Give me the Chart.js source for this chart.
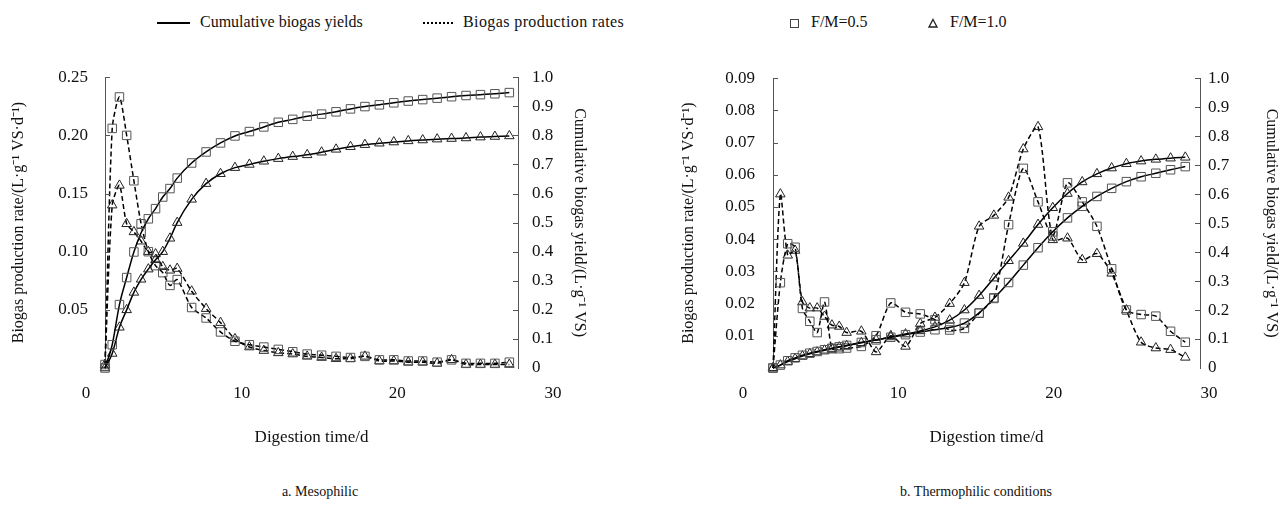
<!DOCTYPE html>
<html>
<head>
<meta charset="utf-8">
<script src="https://cdn.jsdelivr.net/npm/chart.js@4.4.1/dist/chart.umd.min.js"></script>
<style>
  body { margin: 0; background: #fff; font-family: "Liberation Serif", "Times New Roman", serif; color: #111; }
  #page { position: relative; width: 1283px; height: 515px; overflow: hidden; }
  .box { position: absolute; top: 50px; height: 410px; }
  .leg { position: absolute; top: 12px; font-size: 16px; line-height: 20px; white-space: nowrap; }
  .leg i { display: inline-block; vertical-align: middle; margin-right: 10px; }
  .cap { position: absolute; top: 482px; font-size: 14px; line-height: 20px; text-align: center; }
</style>
</head>
<body>
<div id="page">
  <div class="leg" style="left:157px"><i style="width:33px;border-top:2px solid #000"></i>Cumulative biogas yields</div>
  <div class="leg" style="left:423px;letter-spacing:0.4px"><i style="width:30px;border-top:2px dotted #000"></i>Biogas production rates</div>
  <div class="leg" style="left:790px"><i style="width:7px;height:7px;border:1px solid #444;margin-right:12px"></i>F/M=0.5</div>
  <div class="leg" style="left:928px"><svg width="10" height="10" style="vertical-align:middle;margin-right:12px"><path d="M5 1.5 L9 9 L1 9 Z" fill="none" stroke="#222" stroke-width="1.3"/></svg>F/M=1.0</div>

  <div class="box" style="left:0;width:640px"><canvas id="meso"></canvas></div>
  <div class="box" style="left:640px;width:643px"><canvas id="thermo"></canvas></div>

  <div class="cap" style="left:0;width:640px">a. Mesophilic</div>
  <div class="cap" style="left:700px;width:552px">b. Thermophilic conditions</div>
</div>

<script>
const dias = [0, 0.5, 1, 1.5, 2, 2.5, 3, 3.5, 4, 4.5, 5, 6, 7, 8, 9, 10, 11, 12, 13, 14, 15, 16, 17, 18, 19, 20, 21, 22, 23, 24, 25, 26, 27, 28];

// mesofilico
const mesoCum05 = [0, 0.08, 0.218, 0.311, 0.399, 0.465, 0.513, 0.548, 0.588, 0.617, 0.653, 0.705, 0.743, 0.774, 0.798, 0.813, 0.829, 0.845, 0.855, 0.866, 0.873, 0.881, 0.891, 0.899, 0.905, 0.912, 0.918, 0.923, 0.928, 0.933, 0.937, 0.940, 0.943, 0.947];
const mesoCum10 = [0, 0.05, 0.14, 0.20, 0.26, 0.305, 0.34, 0.372, 0.40, 0.446, 0.50, 0.58, 0.634, 0.668, 0.689, 0.70, 0.711, 0.72, 0.727, 0.733, 0.742, 0.752, 0.761, 0.768, 0.773, 0.777, 0.781, 0.784, 0.787, 0.789, 0.791, 0.794, 0.796, 0.798];
const mesoRate05 = [0.003, 0.206, 0.233, 0.200, 0.161, 0.124, 0.100, 0.088, 0.082, 0.071, 0.076, 0.052, 0.043, 0.031, 0.023, 0.020, 0.018, 0.016, 0.014, 0.012, 0.011, 0.010, 0.009, 0.010, 0.007, 0.007, 0.006, 0.006, 0.005, 0.007, 0.004, 0.004, 0.004, 0.005];
const mesoRate10 = [0.003, 0.140, 0.157, 0.124, 0.117, 0.109, 0.100, 0.098, 0.087, 0.084, 0.0855, 0.066, 0.051, 0.039, 0.025, 0.018, 0.015, 0.013, 0.012, 0.010, 0.009, 0.008, 0.008, 0.010, 0.006, 0.006, 0.005, 0.005, 0.004, 0.007, 0.003, 0.003, 0.003, 0.003];

// termofilico
const thermoCum05 = [0, 0.01, 0.025, 0.035, 0.044, 0.051, 0.057, 0.063, 0.068, 0.073, 0.078, 0.088, 0.097, 0.106, 0.115, 0.124, 0.132, 0.14, 0.155, 0.19, 0.24, 0.295, 0.355, 0.415, 0.47, 0.518, 0.558, 0.592, 0.62, 0.643, 0.66, 0.672, 0.684, 0.695];
const thermoCum10 = [0, 0.01, 0.022, 0.032, 0.041, 0.049, 0.055, 0.061, 0.067, 0.072, 0.077, 0.087, 0.097, 0.107, 0.117, 0.128, 0.142, 0.165, 0.20, 0.25, 0.31, 0.37, 0.43, 0.495, 0.553, 0.602, 0.642, 0.67, 0.69, 0.705, 0.714, 0.72, 0.724, 0.727];
const thermoRate05 = [0, 0.0265, 0.0386, 0.0375, 0.0185, 0.0145, 0.011, 0.0205, 0.006, 0.006, 0.0062, 0.0067, 0.010, 0.0202, 0.0173, 0.0168, 0.015, 0.0118, 0.0123, 0.017, 0.0218, 0.0445, 0.062, 0.0516, 0.041, 0.0575, 0.0516, 0.044, 0.0308, 0.018, 0.0166, 0.0161, 0.0114, 0.008];
const thermoRate10 = [0, 0.054, 0.035, 0.0365, 0.0205, 0.0186, 0.0186, 0.016, 0.0133, 0.0129, 0.011, 0.0114, 0.005, 0.010, 0.0067, 0.0138, 0.0157, 0.020, 0.0265, 0.044, 0.0474, 0.053, 0.068, 0.0749, 0.0398, 0.0403, 0.0336, 0.0355, 0.0294, 0.018, 0.008, 0.0062, 0.0057, 0.0033];

const rateTicksMeso = [0, 0.05, 0.10, 0.15, 0.20, 0.25];
const rateTicksThermo = [0, 0.01, 0.02, 0.03, 0.04, 0.05, 0.06, 0.07, 0.08, 0.09];
const cumTicks = [0, 0.1, 0.2, 0.3, 0.4, 0.5, 0.6, 0.7, 0.8, 0.9, 1.0];
const timeTicks = [0, 10, 20, 30];

const serif = '"Liberation Serif", "Times New Roman", serif';

function puntos(vals) {
  return dias.map((d, i) => ({ x: d, y: vals[i] }));
}

function serie(label, vals, eje, punteada, estilo) {
  return {
    label,
    data: puntos(vals),
    xAxisID: 'x',
    yAxisID: eje,
    borderColor: '#000',
    borderWidth: 1.5,
    borderDash: punteada ? [5, 3] : [],
    tension: punteada ? 0.25 : 0,
    cubicInterpolationMode: punteada ? 'default' : 'monotone',
    pointStyle: estilo,
    pointRadius: estilo === 'rect' ? 6 : 5.5,
    pointHoverRadius: 6,
    pointBorderColor: estilo === 'rect' ? '#555' : '#222',
    pointBackgroundColor: 'rgba(0,0,0,0)',
    pointBorderWidth: 1,
    clip: 10
  };
}

// marcas de los ejes hacia dentro
const marcasInternas = {
  id: 'marcasInternas',
  afterDraw(chart) {
    const ctx = chart.ctx;
    const area = chart.chartArea;
    ['yr', 'yc'].forEach(id => {
      const s = chart.scales[id];
      const izq = s.position === 'left';
      const x0 = izq ? area.left : area.right;
      ctx.save();
      ctx.strokeStyle = '#555';
      ctx.lineWidth = 1;
      s.ticks.forEach(t => {
        if (t.value === 0) return;
        const y = Math.round(s.getPixelForValue(t.value)) + 0.5;
        ctx.beginPath();
        ctx.moveTo(x0, y);
        ctx.lineTo(izq ? x0 + 5 : x0 - 5, y);
        ctx.stroke();
      });
      ctx.restore();
    });
  }
};

function fijarTicks(lista) {
  return s => { s.ticks = lista.map(v => ({ value: v })); };
}

function crearGrafico(id, c) {
  const unidad = (c.anchoArea + c.off0 + c.off30) / 30;
  new Chart(document.getElementById(id), {
    type: 'line',
    data: {
      datasets: [
        serie('Cumulative F/M=0.5', c.cum05, 'yc', false, 'rect'),
        serie('Cumulative F/M=1.0', c.cum10, 'yc', false, 'triangle'),
        serie('Rate F/M=0.5', c.rate05, 'yr', true, 'rect'),
        serie('Rate F/M=1.0', c.rate10, 'yr', true, 'triangle')
      ]
    },
    options: {
      responsive: true,
      maintainAspectRatio: false,
      animation: false,
      layout: { padding: c.padding },
      plugins: { legend: { display: false }, tooltip: { enabled: false } },
      scales: {
        x: { type: 'linear', min: 0, max: c.diaMax, display: false },
        xl: {
          type: 'linear',
          position: 'bottom',
          min: c.off0 / unidad,
          max: (c.off0 + c.anchoArea) / unidad,
          afterBuildTicks: fijarTicks(timeTicks),
          afterFit: s => { s.height = 80; },
          grid: { display: false, drawTicks: false },
          border: { display: false },
          ticks: { autoSkip: false, padding: 15, color: '#111', font: { family: serif, size: 17 } },
          title: { display: true, text: 'Digestion time/d', color: '#111', padding: { top: 0, bottom: 0 }, font: { family: serif, size: 17 } }
        },
        yr: {
          type: 'linear',
          position: 'left',
          min: 0,
          max: c.rateTicks[c.rateTicks.length - 1],
          afterBuildTicks: fijarTicks(c.rateTicks),
          afterFit: s => { s.width = c.anchoIzq; },
          grid: { display: false, drawTicks: false },
          border: { display: true, color: '#555', width: 1 },
          ticks: {
            padding: c.padIzq, color: '#111', font: { family: serif, size: 17 },
            callback: v => v === 0 ? '' : v.toFixed(2)
          },
          title: { display: true, text: 'Biogas production rate/(L·g⁻¹ VS·d⁻¹)', color: '#111', padding: { top: c.tituloIzq, bottom: 0 }, font: { family: serif, size: 16 } }
        },
        yc: {
          type: 'linear',
          position: 'right',
          min: 0,
          max: 1,
          afterBuildTicks: fijarTicks(cumTicks),
          afterFit: s => { s.width = c.anchoDer; },
          grid: { display: false, drawTicks: false },
          border: { display: true, color: '#555', width: 1 },
          ticks: {
            padding: c.padDer, color: '#111', font: { family: serif, size: 17 },
            callback: v => v === 0 ? '0' : v.toFixed(1)
          },
          title: { display: true, text: 'Cumulative biogas yield/(L·g⁻¹ VS)', color: '#111', padding: { top: c.tituloDer, bottom: 0 }, font: { family: serif, size: 16 } }
        }
      }
    },
    plugins: [marcasInternas]
  });
}

crearGrafico('meso', {
  cum05: mesoCum05, cum10: mesoCum10, rate05: mesoRate05, rate10: mesoRate10,
  rateTicks: rateTicksMeso,
  diaMax: 28.6,
  padding: { top: 21, left: 0, right: 46, bottom: 12 },
  anchoIzq: 105, anchoDer: 76, anchoArea: 413,
  off0: 19, off30: 35,
  padIzq: 17, padDer: 14, tituloIzq: 9, tituloDer: 5.4
});

crearGrafico('thermo', {
  cum05: thermoCum05, cum10: thermoCum10, rate05: thermoRate05, rate10: thermoRate10,
  rateTicks: rateTicksThermo,
  diaMax: 29.0,
  padding: { top: 21, left: 30, right: 0, bottom: 12 },
  anchoIzq: 103, anchoDer: 83, anchoArea: 427,
  off0: 30, off30: 9,
  padIzq: 18, padDer: 8, tituloIzq: 9.4, tituloDer: 2.4
});
</script>
</body>
</html>
